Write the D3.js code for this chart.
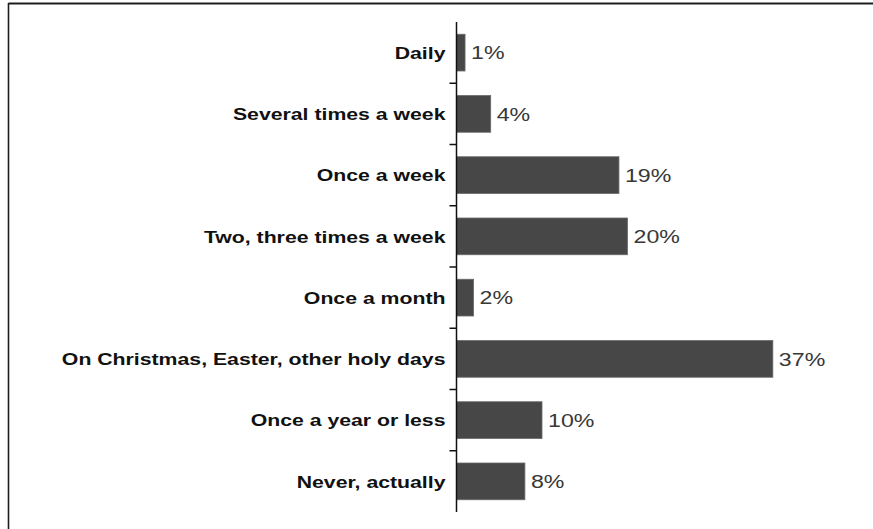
<!DOCTYPE html>
<html>
<head>
<meta charset="utf-8">
<script src="https://cdn.jsdelivr.net/npm/d3@7"></script>
<style>
  html, body { margin: 0; padding: 0; background: #fff; }
  svg { display: block; }
</style>
</head>
<body>
<svg id="chart" width="873" height="529"></svg>
<script>
// Frequency of church attendance, share of respondents
const categories = [
  "Daily",
  "Several times a week",
  "Once a week",
  "Two, three times a week",
  "Once a month",
  "On Christmas, Easter, other holy days",
  "Once a year or less",
  "Never, actually"
];
const values = [1, 4, 19, 20, 2, 37, 10, 8];
const valueLabels = ["1%", "4%", "19%", "20%", "2%", "37%", "10%", "8%"];

const svg = d3.select("#chart");
const W = 873, H = 529;

const axisX = 456.5;
const plotTop = 22, plotBottom = 512;

const y = d3.scaleBand()
  .domain(categories)
  .range([plotTop, plotBottom])
  .paddingInner(0.4)
  .paddingOuter(0.2);

const x = d3.scaleLinear()
  .domain([0, 40])
  .range([axisX, axisX + 342]);

// Outer frame (top and left edges)
svg.append("line")
  .attr("x1", 8.5).attr("x2", W).attr("y1", 3.5).attr("y2", 3.5)
  .attr("stroke", "#1e1e1e").attr("stroke-width", 2);
svg.append("line")
  .attr("x1", 8.5).attr("x2", 8.5).attr("y1", 3).attr("y2", H)
  .attr("stroke", "#1e1e1e").attr("stroke-width", 1.6);

// Bars
svg.append("g").selectAll("rect")
  .data(categories)
  .join("rect")
  .attr("x", axisX)
  .attr("y", d => y(d))
  .attr("width", (d, i) => x(values[i]) - axisX)
  .attr("height", y.bandwidth())
  .attr("fill", "#474747")
  .attr("stroke", "#6a6a6a")
  .attr("stroke-width", 0.8);

// Vertical category axis with ticks between rows
svg.append("line")
  .attr("x1", axisX).attr("x2", axisX)
  .attr("y1", plotTop).attr("y2", plotBottom)
  .attr("stroke", "#111").attr("stroke-width", 1.5);

const step = y.step();
svg.append("g").selectAll("line")
  .data(categories.slice(1))
  .join("line")
  .attr("x1", axisX - 7).attr("x2", axisX)
  .attr("y1", d => y(d) - step * y.paddingInner() / 2)
  .attr("y2", d => y(d) - step * y.paddingInner() / 2)
  .attr("stroke", "#111").attr("stroke-width", 1.5);

// Category labels (bold, wide setting)
const labelScale = 1.25;
svg.append("g").selectAll("text")
  .data(categories)
  .join("text")
  .attr("transform", d => `translate(${axisX - 11},${y(d) + y.bandwidth() / 2}) scale(${labelScale},1)`)
  .attr("text-anchor", "end")
  .attr("dy", "0.36em")
  .attr("font-family", "Liberation Sans, Arial, sans-serif")
  .attr("font-weight", "bold")
  .attr("font-size", 17)
  .attr("fill", "#111")
  .text(d => d);

// Value labels at the end of each bar
const valueScale = 1.22;
svg.append("g").selectAll("text")
  .data(categories)
  .join("text")
  .attr("transform", (d, i) => `translate(${x(values[i]) + 6},${y(d) + y.bandwidth() / 2}) scale(${valueScale},1)`)
  .attr("text-anchor", "start")
  .attr("dy", "0.36em")
  .attr("font-family", "Liberation Sans, Arial, sans-serif")
  .attr("font-size", 19)
  .attr("fill", "#383838")
  .text((d, i) => valueLabels[i]);
</script>
</body>
</html>
